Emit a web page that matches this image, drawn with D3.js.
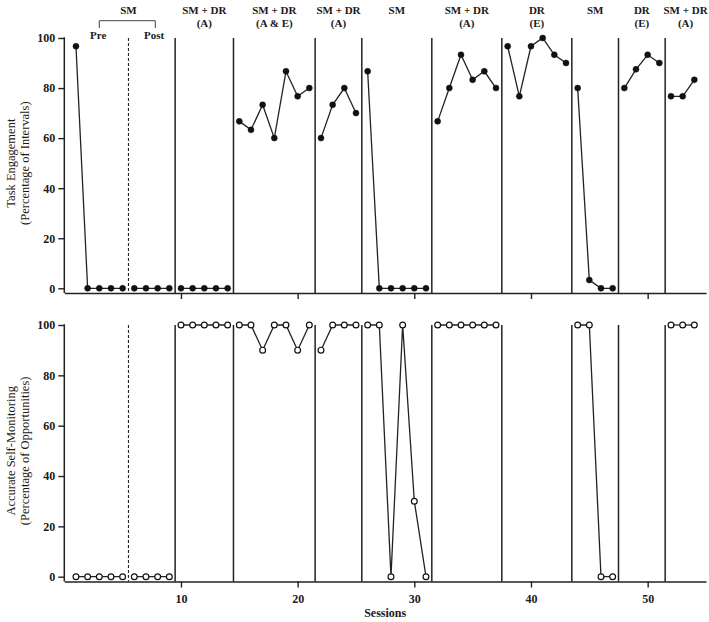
<!doctype html>
<html lang="en">
<head>
<meta charset="utf-8" />
<style>
  body { margin: 0; background: #fff; }
  svg text { font-family: "Liberation Serif", "Times New Roman", serif; fill: #1a1a1a; }
  .tick text { font-size: 12px; font-weight: bold; }
  .phase-label { font-size: 11px; font-weight: bold; text-anchor: middle; }
  .y-title { font-size: 12.5px; text-anchor: middle; }
</style>
</head>
<body>
<div id="chart"></div>
<script src="https://cdn.jsdelivr.net/npm/d3@7"></script>
<script>
  // sessions 1..54
  var sessions = [1,2,3,4,5,6,7,8,9,10,11,12,13,14,15,16,17,18,19,20,21,22,23,24,25,26,27,
                  28,29,30,31,32,33,34,35,36,37,38,39,40,41,42,43,44,45,46,47,48,49,50,51,52,53,54];

  // task engagement (% of intervals)
  var engagement = [96.7,0,0,0,0, 0,0,0,0, 0,0,0,0,0,
                    66.7,63.3,73.3,60,86.7,76.7,80, 60,73.3,80,70,
                    86.7,0,0,0,0,0, 66.7,80,93.3,83.3,86.7,80,
                    96.7,76.7,96.7,100,93.3,90, 80,3.3,0,0,
                    80,87.5,93.3,90, 76.7,76.7,83.3];

  // accurate self-monitoring (% of opportunities), null = not measured
  var monitoring = [0,0,0,0,0, 0,0,0,0, 100,100,100,100,100,
                    100,100,90,100,100,90,100, 90,100,100,100,
                    100,100,0,100,30,0, 100,100,100,100,100,100,
                    null,null,null,null,null,null, 100,100,0,0,
                    null,null,null,null, 100,100,100];

  // phase change lines (first one is the dashed pre/post split)
  var phaseLines = [5.5, 9.5, 14.5, 21.5, 25.5, 31.5, 37.5, 43.5, 47.5, 51.5];

  var phaseNames = [
    {from: 9.5,  to: 14.5, l1: "SM + DR", l2: "(A)"},
    {from: 14.5, to: 21.5, l1: "SM + DR", l2: "(A & E)"},
    {from: 21.5, to: 25.5, l1: "SM + DR", l2: "(A)"},
    {from: 25.5, to: 31.5, l1: "SM", l2: ""},
    {from: 31.5, to: 37.5, l1: "SM + DR", l2: "(A)"},
    {from: 37.5, to: 43.5, l1: "DR", l2: "(E)"},
    {from: 43.5, to: 47.5, l1: "SM", l2: ""},
    {from: 47.5, to: 51.5, l1: "DR", l2: "(E)"},
    {from: 51.5, to: 55,   l1: "SM + DR", l2: "(A)"}
  ];

  var yTicks = [0, 20, 40, 60, 80, 100];
  var xTicks = [10, 20, 30, 40, 50];

  var width = 709, height = 622;
  var ink = "#222";

  var svg = d3.select("#chart").append("svg")
      .attr("width", width)
      .attr("height", height);

  var x = d3.scaleLinear().domain([0, 55]).range([64.3, 706]);

  var panels = [
    {values: engagement, top: 38, zero: 288.3, axisY: 293, filled: true,
     title: ["Task Engagement", "(Percentage of Intervals)"], labels: false},
    {values: monitoring, top: 325, zero: 576.7, axisY: 581.5, filled: false,
     title: ["Accurate Self-Monitoring", "(Percentage of Opportunities)"], labels: true}
  ];

  // which phase a session sits in, so lines break at phase changes
  function phaseOf(s) {
    var k = 0;
    phaseLines.forEach(function(b) { if (s > b) k++; });
    return k;
  }

  panels.forEach(function(p) {
    var y = d3.scaleLinear().domain([0, 100]).range([p.zero, p.top]);
    var g = svg.append("g");

    // y axis
    var yAxis = g.append("g")
        .attr("transform", "translate(" + x(0) + ",0)")
        .call(d3.axisLeft(y).tickValues(yTicks).tickSize(6).tickPadding(3).tickSizeOuter(0));
    yAxis.select(".domain").remove();
    yAxis.selectAll(".tick line").attr("stroke", ink).attr("stroke-width", 1.4);
    g.append("line")
        .attr("x1", x(0)).attr("x2", x(0))
        .attr("y1", p.top - 0.7).attr("y2", p.axisY)
        .attr("stroke", ink).attr("stroke-width", 1.5);

    // x axis
    var xAxis = g.append("g")
        .attr("transform", "translate(0," + p.axisY + ")")
        .call(d3.axisBottom(x).tickValues(xTicks).tickSize(6).tickPadding(7).tickSizeOuter(0));
    xAxis.select(".domain").attr("stroke", ink).attr("stroke-width", 1.5);
    xAxis.selectAll(".tick line").attr("stroke", ink).attr("stroke-width", 1.4);
    if (!p.labels) xAxis.selectAll(".tick text").remove();

    // phase change lines
    g.selectAll("line.phase")
      .data(phaseLines)
      .enter().append("line")
        .attr("class", "phase")
        .attr("x1", function(d) { return x(d); })
        .attr("x2", function(d) { return x(d); })
        .attr("y1", p.top)
        .attr("y2", p.axisY)
        .attr("stroke", ink)
        .attr("stroke-width", function(d, i) { return i === 0 ? 1.1 : 1.5; })
        .attr("stroke-dasharray", function(d, i) { return i === 0 ? "3,2" : null; });

    // data points with segments per phase
    var pts = sessions.map(function(s, i) { return {s: s, v: p.values[i]}; })
        .filter(function(d) { return d.v !== null; });
    var groups = d3.groups(pts, function(d) { return phaseOf(d.s); });

    var line = d3.line()
        .x(function(d) { return x(d.s); })
        .y(function(d) { return y(d.v); });

    g.selectAll("path.series")
      .data(groups)
      .enter().append("path")
        .attr("class", "series")
        .attr("d", function(d) { return line(d[1]); })
        .attr("fill", "none")
        .attr("stroke", ink)
        .attr("stroke-width", 1.3);

    g.selectAll("circle")
      .data(pts)
      .enter().append("circle")
        .attr("cx", function(d) { return x(d.s); })
        .attr("cy", function(d) { return y(d.v); })
        .attr("r", p.filled ? 3 : 2.9)
        .attr("fill", p.filled ? "#111" : "#fff")
        .attr("stroke", "#111")
        .attr("stroke-width", p.filled ? 0.5 : 1.2);

    // y title
    var cy = (p.top + p.zero) / 2;
    g.append("text")
        .attr("class", "y-title")
        .attr("transform", "translate(15," + cy + ") rotate(-90)")
        .text(p.title[0]);
    g.append("text")
        .attr("class", "y-title")
        .attr("transform", "translate(29," + cy + ") rotate(-90)")
        .text(p.title[1]);
  });

  // headers above top panel
  var head = svg.append("g");
  head.selectAll("text.l1")
    .data(phaseNames)
    .enter().append("text")
      .attr("class", "phase-label l1")
      .attr("x", function(d) { return x((d.from + d.to) / 2); })
      .attr("y", 13.5)
      .text(function(d) { return d.l1; });
  head.selectAll("text.l2")
    .data(phaseNames)
    .enter().append("text")
      .attr("class", "phase-label l2")
      .attr("x", function(d) { return x((d.from + d.to) / 2); })
      .attr("y", 27)
      .text(function(d) { return d.l2; });

  // first SM phase with Pre / Post bracket
  head.append("text")
      .attr("class", "phase-label")
      .attr("x", x(5.5)).attr("y", 13.5)
      .text("SM");
  head.append("path")
      .attr("d", "M" + x(3) + ",28V20.7H" + x(7.8) + "V28")
      .attr("fill", "none")
      .attr("stroke", "#444")
      .attr("stroke-width", 1);
  head.append("text")
      .attr("class", "phase-label")
      .attr("x", x(2.9)).attr("y", 39)
      .text("Pre");
  head.append("text")
      .attr("class", "phase-label")
      .attr("x", x(7.7)).attr("y", 39)
      .text("Post");

  // x title
  svg.append("text")
      .attr("x", x(27.5))
      .attr("y", 617)
      .attr("text-anchor", "middle")
      .style("font-size", "12px")
      .style("font-weight", "bold")
      .text("Sessions");
</script>
</body>
</html>
